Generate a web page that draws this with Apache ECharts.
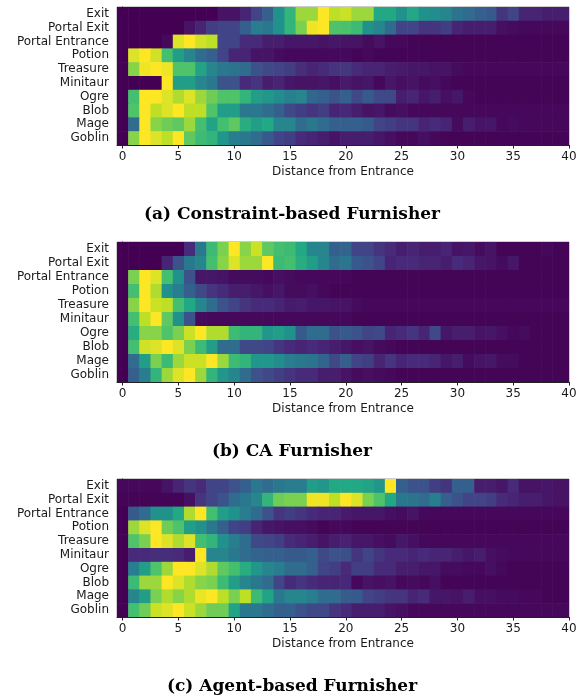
<!DOCTYPE html>
<html>
<head>
<meta charset="utf-8">
<script src="https://cdn.jsdelivr.net/npm/echarts@6/dist/echarts.min.js"></script>
<style>html,body{margin:0;padding:0;background:#fff}#c{width:584px;height:700px}</style>
</head>
<body>
<div id="c"></div>
<script>
// Rows listed top to bottom as in the picture
const rowNames = ["Exit","Portal Exit","Portal Entrance","Potion","Treasure","Minitaur","Ogre","Blob","Mage","Goblin"];
const xTicks = [0,5,10,15,20,25,30,35,40];
const captions = ["(a) Constraint-based Furnisher","(b) CA Furnisher","(c) Agent-based Furnisher"];

// (a) Constraint-based Furnisher, columns at distance 0..40
const constraintBased = [
 [0,0,0,0,0,0,0,0,0,0.05,0.05,0.1,0.2,0.3,0.5,0.65,0.85,0.85,1.0,0.9,0.92,0.85,0.85,0.6,0.6,0.5,0.6,0.5,0.48,0.45,0.38,0.35,0.3,0.28,0.15,0.2,0.1,0.1,0.08,0.08,0.08],
 [0,0,0,0,0,0,0.05,0.1,0.18,0.2,0.2,0.3,0.42,0.4,0.5,0.65,0.8,0.98,1.0,0.72,0.71,0.68,0.5,0.45,0.35,0.2,0.2,0.15,0.15,0.18,0.1,0.08,0.08,0.08,0.04,0.03,0.02,0.02,0.02,0.02,0.02],
 [0,0,0,0,0.02,0.95,1.0,0.93,0.9,0.2,0.2,0.12,0.12,0.08,0.08,0.06,0.06,0.06,0.05,0.06,0.05,0.05,0.03,0.05,0.02,0.02,0.01,0.01,0.01,0.01,0.01,0.01,0.01,0.01,0.01,0.01,0.01,0.01,0.01,0.01,0.01],
 [0,0.95,1.0,0.93,0.7,0.55,0.45,0.35,0.3,0.2,0.1,0.1,0.05,0.05,0.03,0.02,0.02,0.02,0.02,0.02,0.02,0.01,0.02,0.01,0.01,0.01,0.01,0.01,0.01,0.01,0.01,0.01,0.01,0.01,0.01,0.01,0.01,0.01,0.01,0.01,0.01],
 [0,0.82,0.98,1.0,0.98,0.72,0.72,0.58,0.45,0.4,0.38,0.35,0.25,0.22,0.2,0.18,0.13,0.1,0.12,0.15,0.16,0.12,0.1,0.1,0.08,0.07,0.06,0.06,0.05,0.05,0.03,0.02,0.02,0.02,0.02,0.02,0.02,0.02,0.02,0.02,0.02],
 [0,0,0,0,1.0,0.55,0.55,0.45,0.4,0.25,0.25,0.12,0.15,0.08,0.1,0.06,0.05,0.05,0.06,0.04,0.07,0.05,0.06,0.02,0.06,0.04,0.05,0.03,0.04,0.02,0.01,0.01,0.01,0.01,0.01,0.01,0.01,0.01,0.01,0.01,0.01],
 [0,0.7,1.0,1.0,0.95,0.88,0.95,0.85,0.78,0.72,0.72,0.65,0.55,0.52,0.48,0.43,0.45,0.33,0.3,0.25,0.3,0.22,0.28,0.22,0.22,0.08,0.1,0.06,0.08,0.04,0.06,0.02,0.01,0.01,0.01,0.01,0.01,0.01,0.01,0.01,0.01],
 [0,0.72,1.0,0.9,0.95,1.0,0.9,0.9,0.72,0.55,0.55,0.4,0.4,0.35,0.3,0.22,0.18,0.15,0.18,0.1,0.11,0.08,0.05,0.06,0.03,0.04,0.02,0.02,0.02,0.02,0.02,0.02,0.02,0.02,0.02,0.02,0.02,0.02,0.02,0.02,0.02],
 [0,0.35,1.0,0.82,0.78,0.75,0.85,0.7,0.58,0.7,0.75,0.62,0.55,0.6,0.45,0.45,0.35,0.4,0.35,0.3,0.3,0.3,0.28,0.2,0.18,0.15,0.15,0.1,0.12,0.1,0.03,0.08,0.05,0.06,0.02,0.03,0.02,0.02,0.02,0.02,0.02],
 [0,0.82,1.0,0.95,0.9,1.0,0.75,0.68,0.65,0.52,0.42,0.4,0.35,0.28,0.2,0.18,0.12,0.1,0.08,0.05,0.08,0.08,0.08,0.06,0.04,0.02,0.02,0.04,0.02,0.01,0.01,0.01,0.01,0.01,0.01,0.01,0.01,0.01,0.01,0.01,0.01]
];

// (b) CA Furnisher
const caFurnisher = [
 [0,0,0,0,0,0,0.12,0.4,0.68,0.8,1.0,0.82,0.92,0.75,0.7,0.68,0.6,0.45,0.45,0.3,0.32,0.2,0.2,0.15,0.12,0.08,0.1,0.08,0.08,0.1,0.05,0.06,0.03,0.05,0.01,0.01,0.01,0.01,0.02,0.01,0.01],
 [0,0,0,0,0.1,0.25,0.4,0.45,0.7,0.82,0.95,0.85,0.85,1.0,0.68,0.7,0.62,0.55,0.45,0.35,0.39,0.28,0.25,0.2,0.1,0.12,0.12,0.1,0.1,0.08,0.12,0.1,0.06,0.05,0.03,0.06,0.01,0.01,0.01,0.01,0.01],
 [0,0.8,1.0,0.95,0.7,0.5,0.25,0.06,0.06,0.05,0.03,0.03,0.03,0.02,0.04,0.03,0.02,0.02,0.02,0.02,0.02,0.01,0.01,0.01,0.01,0.01,0.01,0.01,0.01,0.01,0.01,0.01,0.01,0.01,0.01,0.01,0.01,0.01,0.01,0.01,0.01],
 [0,0.7,1.0,0.88,0.5,0.42,0.3,0.22,0.15,0.12,0.08,0.08,0.06,0.04,0.06,0.03,0.03,0.04,0.02,0.01,0.01,0.01,0.01,0.01,0.01,0.01,0.01,0.01,0.01,0.01,0.01,0.01,0.01,0.01,0.01,0.01,0.01,0.01,0.01,0.01,0.01],
 [0,0.82,1.0,0.92,0.9,0.7,0.6,0.45,0.35,0.25,0.2,0.15,0.12,0.12,0.1,0.07,0.08,0.06,0.06,0.05,0.05,0.03,0.02,0.02,0.02,0.02,0.02,0.02,0.02,0.02,0.02,0.02,0.02,0.02,0.02,0.02,0.02,0.02,0.02,0.02,0.02],
 [0,0.7,0.9,1.0,0.75,0.5,0.25,0.03,0.02,0.02,0.02,0.02,0.02,0.02,0.02,0.02,0.02,0.02,0.02,0.02,0.02,0.01,0.01,0.01,0.01,0.01,0.01,0.01,0.01,0.01,0.01,0.01,0.01,0.01,0.01,0.01,0.01,0.01,0.01,0.01,0.01],
 [0,0.62,0.82,0.82,0.72,0.8,0.92,1.0,0.88,0.88,0.68,0.65,0.65,0.52,0.55,0.5,0.28,0.35,0.35,0.25,0.28,0.25,0.2,0.22,0.1,0.12,0.15,0.1,0.22,0.06,0.08,0.08,0.05,0.06,0.04,0.02,0.03,0.01,0.01,0.01,0.01],
 [0,0.7,0.93,0.95,1.0,0.95,0.8,0.68,0.55,0.35,0.35,0.22,0.22,0.2,0.15,0.12,0.1,0.12,0.1,0.08,0.06,0.04,0.05,0.03,0.02,0.01,0.01,0.01,0.01,0.01,0.01,0.01,0.01,0.01,0.01,0.01,0.01,0.01,0.01,0.01,0.01],
 [0,0.35,0.55,0.8,0.68,0.85,0.92,0.92,1.0,0.85,0.68,0.65,0.52,0.52,0.48,0.42,0.4,0.38,0.32,0.22,0.3,0.2,0.18,0.1,0.15,0.1,0.12,0.12,0.1,0.06,0.08,0.03,0.05,0.06,0.03,0.03,0.01,0.01,0.01,0.01,0.01],
 [0,0.3,0.42,0.65,0.85,0.95,1.0,0.85,0.65,0.52,0.45,0.35,0.25,0.22,0.18,0.15,0.12,0.12,0.08,0.08,0.05,0.03,0.04,0.03,0.02,0.01,0.01,0.01,0.01,0.01,0.01,0.01,0.01,0.01,0.01,0.01,0.01,0.01,0.01,0.01,0.01]
];

// (c) Agent-based Furnisher
const agentBased = [
 [0.02,0.02,0.02,0.02,0.05,0.1,0.15,0.12,0.2,0.2,0.25,0.3,0.4,0.35,0.4,0.42,0.42,0.55,0.52,0.6,0.6,0.6,0.58,0.52,1.0,0.3,0.25,0.25,0.18,0.15,0.3,0.3,0.08,0.08,0.06,0.12,0.05,0.05,0.06,0.05,0.05],
 [0.01,0.01,0.01,0.01,0.01,0.01,0.04,0.15,0.2,0.25,0.35,0.4,0.45,0.65,0.78,0.8,0.8,0.98,0.98,0.9,1.0,0.95,0.8,0.72,0.6,0.4,0.38,0.35,0.42,0.3,0.25,0.2,0.2,0.18,0.12,0.1,0.08,0.08,0.06,0.05,0.05],
 [0,0.28,0.35,0.5,0.5,0.6,0.88,1.0,0.7,0.55,0.5,0.42,0.35,0.25,0.15,0.18,0.15,0.12,0.1,0.1,0.07,0.06,0.06,0.06,0.04,0.03,0.05,0.02,0.02,0.02,0.02,0.02,0.02,0.02,0.02,0.02,0.02,0.02,0.02,0.02,0.02],
 [0,0.85,0.95,1.0,0.78,0.72,0.55,0.5,0.4,0.3,0.2,0.18,0.1,0.06,0.05,0.04,0.04,0.03,0.01,0.02,0.02,0.01,0.01,0.01,0.01,0.01,0.01,0.01,0.01,0.01,0.01,0.01,0.01,0.01,0.01,0.01,0.01,0.01,0.01,0.01,0.01],
 [0,0.72,0.8,1.0,0.95,0.88,0.95,0.7,0.65,0.5,0.42,0.35,0.22,0.2,0.18,0.12,0.1,0.08,0.05,0.08,0.09,0.06,0.06,0.04,0.03,0.06,0.04,0.02,0.02,0.02,0.02,0.02,0.02,0.02,0.02,0.02,0.02,0.02,0.02,0.02,0.02],
 [0,0.12,0.12,0.13,0.13,0.12,0.08,1.0,0.45,0.45,0.4,0.35,0.32,0.3,0.3,0.28,0.28,0.3,0.22,0.25,0.24,0.15,0.2,0.15,0.12,0.12,0.1,0.12,0.1,0.1,0.08,0.06,0.08,0.04,0.03,0.02,0.02,0.02,0.02,0.02,0.02],
 [0,0.42,0.55,0.72,0.85,1.0,1.0,0.95,0.88,0.75,0.7,0.62,0.52,0.45,0.42,0.35,0.35,0.3,0.2,0.18,0.12,0.18,0.18,0.12,0.12,0.08,0.08,0.06,0.06,0.03,0.03,0.02,0.02,0.04,0.02,0.01,0.01,0.01,0.01,0.01,0.01],
 [0,0.68,0.85,0.85,1.0,0.95,0.88,0.82,0.8,0.68,0.55,0.45,0.4,0.35,0.2,0.12,0.15,0.12,0.1,0.1,0.11,0.02,0.05,0.04,0.05,0.02,0.03,0.02,0.04,0.01,0.01,0.01,0.01,0.01,0.01,0.01,0.01,0.01,0.01,0.01,0.01],
 [0,0.45,0.55,0.8,0.88,0.82,0.88,0.97,1.0,0.9,0.8,0.9,0.68,0.58,0.4,0.45,0.45,0.42,0.35,0.35,0.29,0.28,0.2,0.18,0.15,0.15,0.1,0.12,0.06,0.06,0.05,0.08,0.04,0.04,0.03,0.03,0.02,0.02,0.01,0.01,0.01],
 [0,0.7,0.78,0.92,0.95,1.0,0.92,0.85,0.78,0.78,0.58,0.4,0.4,0.35,0.3,0.3,0.25,0.22,0.22,0.15,0.12,0.08,0.08,0.08,0.05,0.04,0.02,0.02,0.02,0.02,0.02,0.02,0.02,0.02,0.02,0.02,0.02,0.02,0.02,0.02,0.02]
];

const panels = [constraintBased, caFurnisher, agentBased];
const yCategories = rowNames.slice().reverse();

const chart = echarts.init(document.getElementById('c'), null, {renderer: 'canvas'});
const gridTops = [7, 242, 479];
const gridHeights = [138, 140, 138];
const captionY = [214, 451, 686];
const font = '"DejaVu Sans", sans-serif';

const grids = [], xAxes = [], yAxes = [], series = [], graphics = [];
panels.forEach((rows, p) => {
  grids.push({left: 117, right: 15, top: gridTops[p], height: gridHeights[p], show: true, borderColor: '#9a9a9a', borderWidth: 1, backgroundColor: 'transparent'});
  xAxes.push({
    type: 'value', gridIndex: p, min: -0.5, max: 40,
    name: 'Distance from Entrance', nameLocation: 'middle', nameGap: 21,
    nameTextStyle: {fontFamily: font, fontSize: 12, color: '#1a1a1a'},
    splitLine: {show: false},
    axisLine: {show: true, onZero: false, lineStyle: {color: '#222', width: 1}},
    axisTick: {show: true, length: 3.5, lineStyle: {color: '#222'}, customValues: xTicks},
    axisLabel: {fontFamily: font, fontSize: 12, color: '#1a1a1a', margin: 6, customValues: xTicks}
  });
  yAxes.push({
    type: 'category', gridIndex: p, data: yCategories,
    axisLine: {show: true, lineStyle: {color: '#222', width: 1}},
    axisTick: {show: true, alignWithLabel: true, interval: 0, length: 3.5, lineStyle: {color: '#222'}},
    axisLabel: {fontFamily: font, fontSize: 12, color: '#1a1a1a', margin: 8, interval: 0},
    splitLine: {show: false}
  });
  const data = [];
  rows.forEach((vals, i) => {
    const yi = rowNames.length - 1 - i;
    vals.forEach((v, c) => data.push([c, yi, v]));
  });
  series.push({
    type: 'custom', xAxisIndex: p, yAxisIndex: p, clip: true,
    encode: {x: 0, y: 1},
    data: data,
    renderItem: function (params, api) {
      const x = api.value(0), y = api.value(1);
      const p0 = api.coord([x - 0.5, y]);
      const p1 = api.coord([x + 0.5, y]);
      const h = api.size([1, 1])[1];
      return {
        type: 'rect',
        shape: {x: p0[0], y: p0[1] - h / 2, width: p1[0] - p0[0] + 0.6, height: h + 0.6},
        style: {fill: api.visual('color')}
      };
    }
  });
  graphics.push({
    type: 'text', left: 'center', top: captionY[p] - 8,
    style: {text: captions[p], font: 'bold 17px "DejaVu Serif", serif', fill: '#000', textAlign: 'center'}
  });
});

chart.setOption({
  animation: false,
  grid: grids, xAxis: xAxes, yAxis: yAxes, series: series,
  visualMap: {
    show: false, min: 0, max: 1, dimension: 2, calculable: false,
    inRange: {color: ['#440154','#482475','#414487','#355f8d','#2a788e','#21918c','#22a884','#44bf70','#7ad151','#bddf26','#fde725']}
  },
  graphic: graphics
});
</script>
</body>
</html>
